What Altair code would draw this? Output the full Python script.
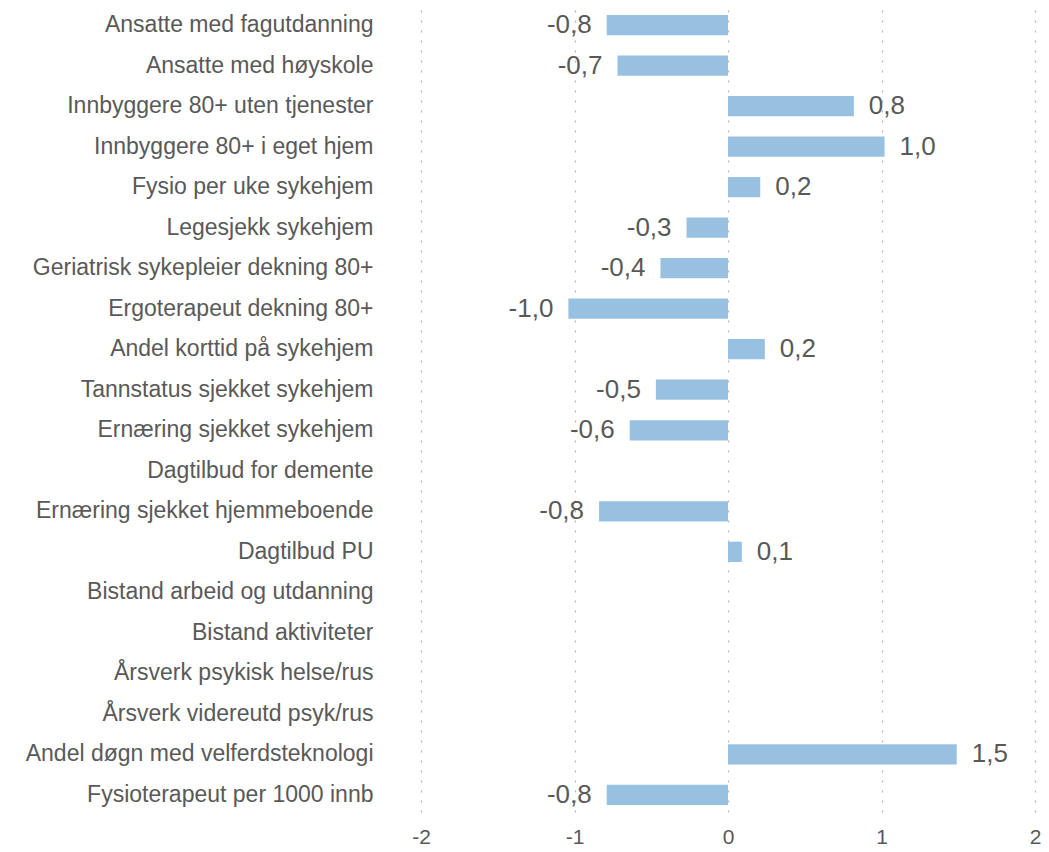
import altair as alt
import pandas as pd

categories = [
    "Ansatte med fagutdanning",
    "Ansatte med høyskole",
    "Innbyggere 80+ uten tjenester",
    "Innbyggere 80+ i eget hjem",
    "Fysio per uke sykehjem",
    "Legesjekk sykehjem",
    "Geriatrisk sykepleier dekning 80+",
    "Ergoterapeut dekning 80+",
    "Andel korttid på sykehjem",
    "Tannstatus sjekket sykehjem",
    "Ernæring sjekket sykehjem",
    "Dagtilbud for demente",
    "Ernæring sjekket hjemmeboende",
    "Dagtilbud PU",
    "Bistand arbeid og utdanning",
    "Bistand aktiviteter",
    "Årsverk psykisk helse/rus",
    "Årsverk videreutd psyk/rus",
    "Andel døgn med velferdsteknologi",
    "Fysioterapeut per 1000 innb",
]
values = [-0.79, -0.72, 0.82, 1.02, 0.21, -0.27, -0.44, -1.04, 0.24, -0.47,
          -0.64, None, -0.84, 0.09, None, None, None, None, 1.49, -0.79]
x_ticks = [-2, -1, 0, 1, 2]

df = pd.DataFrame({"category": categories, "value": values})

TEXT = "#595959"
FONT = "Liberation Sans"

y_enc = alt.Y(
    "category:N",
    sort=categories,
    scale=alt.Scale(domain=categories, paddingInner=0.5, paddingOuter=0.17),
    axis=alt.Axis(
        title=None, domain=False, ticks=False, labelFontSize=23,
        labelColor=TEXT, labelFont=FONT, labelPadding=48, labelLimit=600,
    ),
)
x_enc = alt.X(
    "value:Q",
    scale=alt.Scale(domain=[-2, 2], nice=False, zero=True),
    axis=alt.Axis(
        title=None, values=x_ticks, format="d", grid=True, gridDash=[2, 8],
        gridColor="#b4b4b4", gridWidth=1.2, domain=False, ticks=False,
        labelFontSize=21, labelColor=TEXT, labelFont=FONT, labelPadding=14,
        labelFlush=False, labelOverlap=False,
    ),
)

base = alt.Chart(df)

bars = base.transform_filter("isValid(datum.value)").mark_bar(color="#98c1e1").encode(
    x=x_enc, y=y_enc
)

neg = base.transform_filter("datum.value < 0").mark_text(
    align="right", baseline="middle", dx=-15, fontSize=26, font=FONT, color=TEXT
).encode(x="value:Q", y=alt.Y("category:N", sort=categories), text=alt.Text("value:Q", format=".1f"))

pos = base.transform_filter("datum.value > 0").mark_text(
    align="left", baseline="middle", dx=15, fontSize=26, font=FONT, color=TEXT
).encode(x="value:Q", y=alt.Y("category:N", sort=categories), text=alt.Text("value:Q", format=".1f"))

chart = (
    alt.layer(bars, neg, pos)
    .properties(width=614, height=804, padding={"left": 17, "top": 0, "right": 0, "bottom": 0})
    .configure(
        background="white",
        view=alt.ViewConfig(stroke=None),
        locale={"number": {"decimal": ",", "thousands": " ", "grouping": [3],
                           "currency": ["", " kr"], "minus": "-"}},
    )
)

chart.save("out.html", embed_options={"renderer": "svg", "actions": False})
